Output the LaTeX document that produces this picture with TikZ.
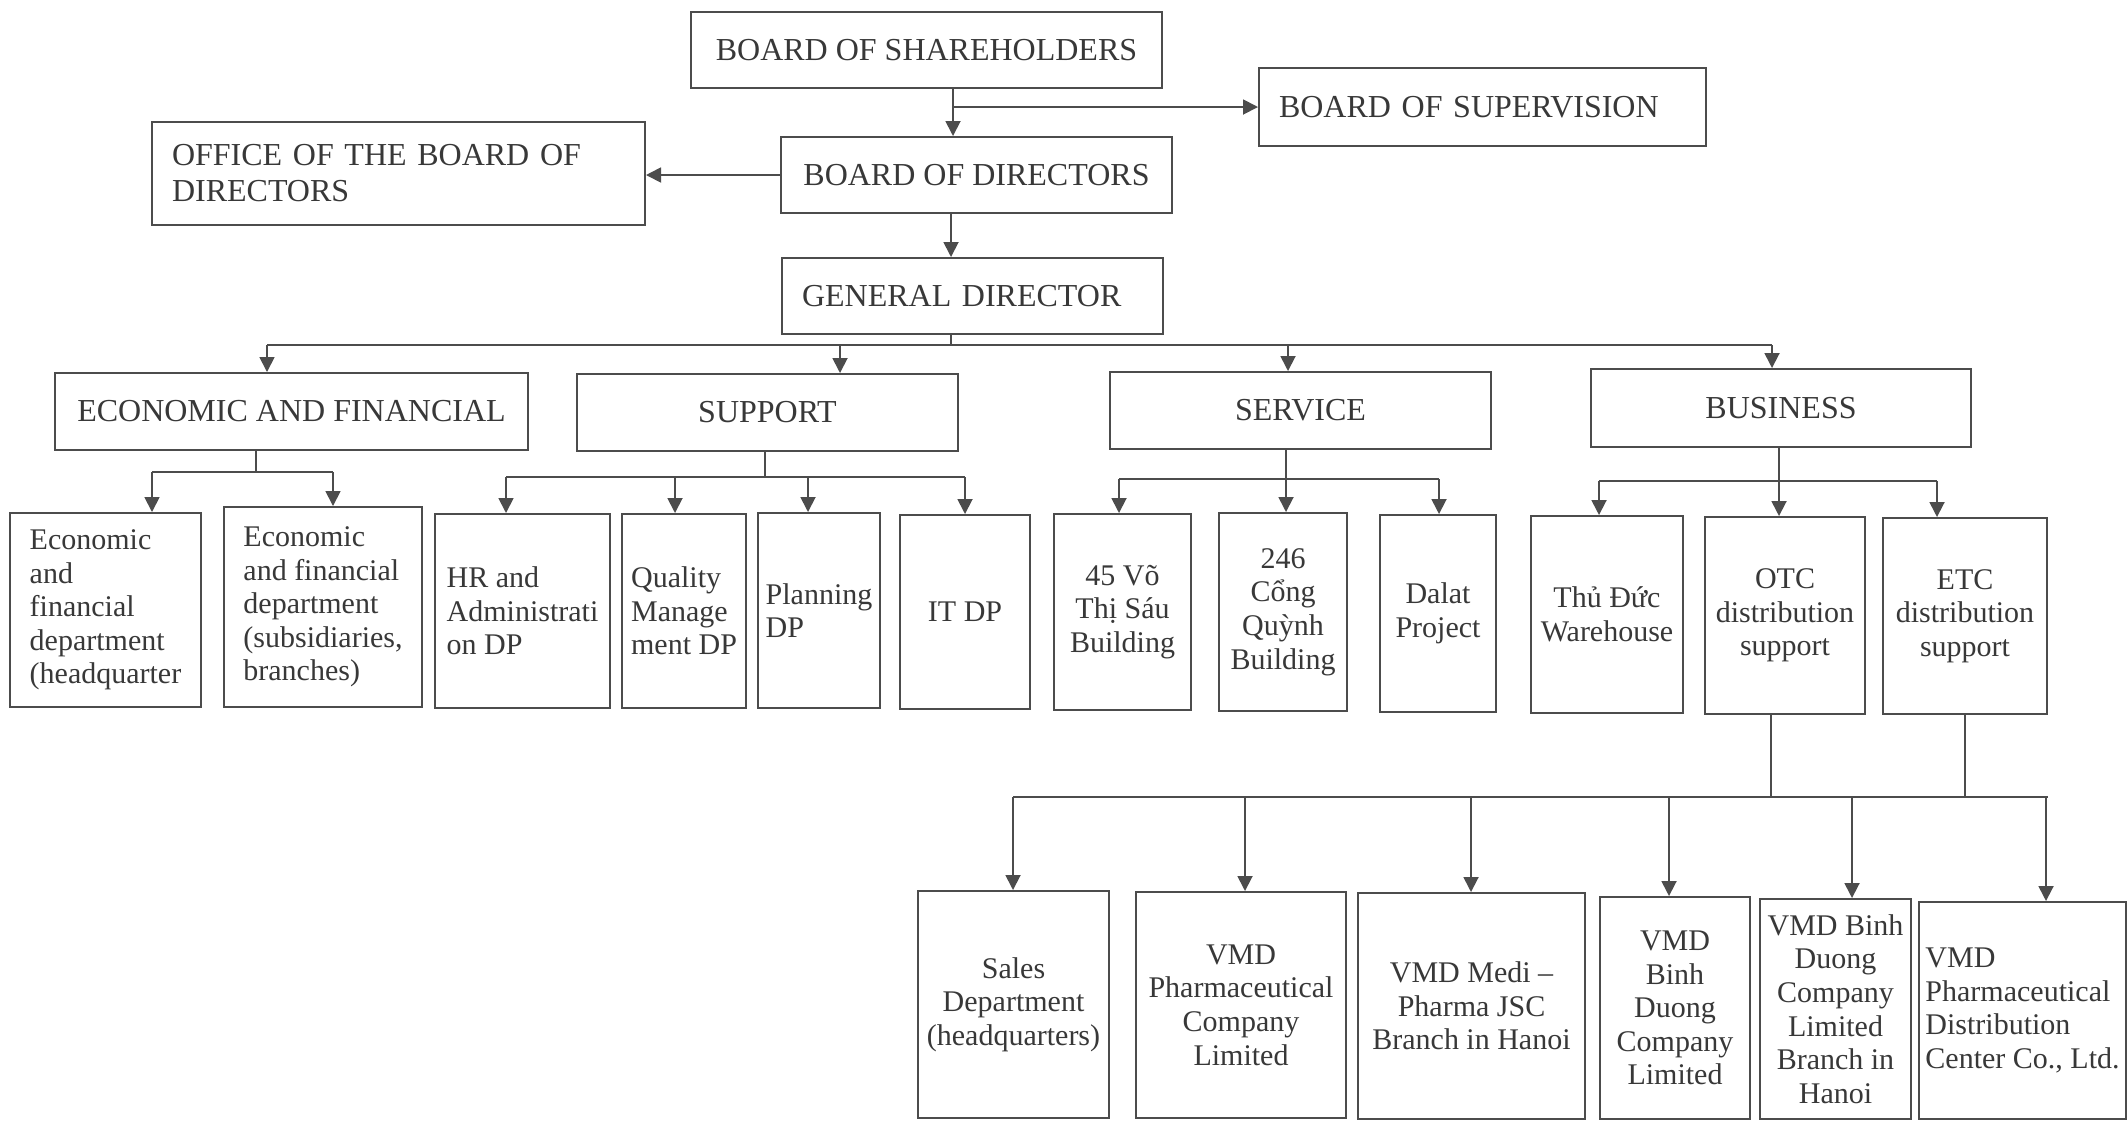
\documentclass[tikz,border=0pt]{standalone}
\usepackage{fontspec}
\setmainfont{Liberation Serif}
\usetikzlibrary{arrows.meta}
\definecolor{linecol}{gray}{0.3}
\definecolor{txtcol}{gray}{0.22}
\tikzset{
 box/.style={draw=linecol, line width=1pt, inner sep=0pt, text=txtcol, align=center, font=\fontsize{15}{16.8}\selectfont},
 big/.style={font=\fontsize{16}{18}\selectfont},
 ln/.style={draw=linecol, line width=0.9pt},
 arr/.style={ln, -{Triangle[length=7.5pt,width=7.5pt]}},
}
\newcommand\orgbox[7]{\node[box,#6,minimum width={(#4-#2)*0.5pt},minimum height={(#5-#3)*0.5pt}] (#1) at ({(#2+#4)/2},{(#3+#5)/2}) {#7};}
\begin{document}
\begin{tikzpicture}[x=0.5pt,y=-0.5pt]
\fill[white] (0,0) rectangle (2128,1121);
\useasboundingbox (0,0) rectangle (2128,1121);

% top levels
\orgbox{sh}{691}{12}{1162}{88}{big}{BOARD OF SHAREHOLDERS}
\orgbox{sup}{1259}{68}{1706}{146}{big,text width=203.5pt,align=left}{BOARD OF SUPERVISION}
\orgbox{bod}{781}{137}{1172}{213}{big}{BOARD OF DIRECTORS}
\orgbox{off}{152}{122}{645}{225}{big,text width=226.5pt,align=left}{OFFICE OF THE BOARD OF\\DIRECTORS}
\orgbox{gd}{782}{258}{1163}{334}{big,text width=170.5pt,align=left}{GENERAL DIRECTOR}

% divisions
\orgbox{eco}{55}{373}{528}{450}{big}{ECONOMIC AND FINANCIAL}
\orgbox{spt}{577}{374}{958}{451}{big}{SUPPORT}
\orgbox{ser}{1110}{372}{1491}{449}{big}{SERVICE}
\orgbox{bus}{1591}{369}{1971}{447}{big}{BUSINESS}

% departments
\orgbox{e1}{10}{513}{201}{707}{align=left}{Economic\\and\\financial\\department\\(headquarter}
\orgbox{e2}{224}{507}{422}{707}{align=left}{Economic\\and financial\\department\\(subsidiaries,\\branches)}
\orgbox{hr}{435}{514}{610}{708}{align=left}{HR and\\Administrati\\on DP}
\orgbox{qm}{622}{514}{746}{708}{align=left}{Quality\\Manage\\ment DP}
\orgbox{pl}{758}{513}{880}{708}{align=left}{Planning\\DP}
\orgbox{it}{900}{515}{1030}{709}{}{IT DP}
\orgbox{s1}{1054}{514}{1191}{710}{}{45 Võ\\Thị Sáu\\Building}
\orgbox{s2}{1219}{513}{1347}{711}{}{246\\Cổng\\Quỳnh\\Building}
\orgbox{s3}{1380}{515}{1496}{712}{}{Dalat\\Project}
\orgbox{b1}{1531}{516}{1683}{713}{}{Thủ Đức\\Warehouse}
\orgbox{b2}{1705}{517}{1865}{714}{}{OTC\\distribution\\support}
\orgbox{b3}{1883}{518}{2047}{714}{}{ETC\\distribution\\support}

% units
\orgbox{d1}{918}{891}{1109}{1118}{}{Sales\\Department\\(headquarters)}
\orgbox{d2}{1136}{892}{1346}{1118}{}{VMD\\Pharmaceutical\\Company\\Limited}
\orgbox{d3}{1358}{893}{1585}{1119}{}{VMD Medi –\\Pharma JSC\\Branch in Hanoi}
\orgbox{d4}{1600}{897}{1750}{1119}{}{VMD\\Binh\\Duong\\Company\\Limited}
\orgbox{d5}{1760}{899}{1911}{1119}{}{VMD Binh\\Duong\\Company\\Limited\\Branch in\\Hanoi}
\orgbox{d6}{1919}{902}{2126}{1119}{align=left}{VMD\\Pharmaceutical\\Distribution\\Center Co., Ltd.}

% junction coordinates
\coordinate (gj) at (951,345);
\coordinate (gl) at (267,345);
\coordinate (gr) at (1772,345);
\coordinate (ej) at (256,472);
\coordinate (el) at (152,472);
\coordinate (er) at (333,472);
\coordinate (pj) at (765,477);
\coordinate (pl1) at (506,477);
\coordinate (pr) at (965,477);
\coordinate (sl) at (1119,479);
\coordinate (sr) at (1439,479);
\coordinate (bl) at (1599,481);
\coordinate (br) at (1937,481);
\coordinate (uj1) at (1771,797);
\coordinate (uj2) at (1965,797);
\coordinate (ul) at (1013,797);
\coordinate (ur) at (2048,797);

% top connectors
\draw[arr] (sh.south -| 953,0) -- (bod.north -| 953,0);
\draw[arr] (sup.west -| 953,0) -- (sup.west);
\draw[arr] (bod.west) -- (bod.west -| off.east);
\draw[arr] (bod.south -| 951,0) -- (gd.north -| 951,0);

% general director bus
\draw[ln] (gd.south -| gj) -- (gj);
\draw[ln] (gl) -- (gr);
\draw[arr] (gl) -- (eco.north -| gl);
\draw[arr] (spt.north -| 840,0) ++(0,-29) -- (spt.north -| 840,0);
\draw[arr] (ser.north -| 1288,0) ++(0,-27) -- (ser.north -| 1288,0);
\draw[arr] (gr) -- (bus.north -| gr);

% economic
\draw[ln] (eco.south -| ej) -- (ej);
\draw[ln] (el) -- (er);
\draw[arr] (el) -- (e1.north -| el);
\draw[arr] (er) -- (e2.north -| er);

% support
\draw[ln] (spt.south -| pj) -- (pj);
\draw[ln] (pl1) -- (pr);
\draw[arr] (pl1) -- (hr.north -| pl1);
\draw[arr] (675,477) -- (qm.north -| 675,0);
\draw[arr] (808,477) -- (pl.north -| 808,0);
\draw[arr] (pr) -- (it.north -| pr);

% service
\draw[arr] (ser.south -| 1286,0) -- (s2.north -| 1286,0);
\draw[ln] (sl) -- (sr);
\draw[arr] (sl) -- (s1.north -| sl);
\draw[arr] (sr) -- (s3.north -| sr);

% business
\draw[arr] (bus.south -| 1779,0) -- (b2.north -| 1779,0);
\draw[ln] (bl) -- (br);
\draw[arr] (bl) -- (b1.north -| bl);
\draw[arr] (br) -- (b3.north -| br);

% units bus
\draw[ln] (b2.south -| uj1) -- (uj1);
\draw[ln] (b3.south -| uj2) -- (uj2);
\draw[ln] (ul) -- (ur);
\draw[arr] (ul) -- (d1.north -| ul);
\draw[arr] (1245,797) -- (d2.north -| 1245,0);
\draw[arr] (1471,797) -- (d3.north -| 1471,0);
\draw[arr] (1669,797) -- (d4.north -| 1669,0);
\draw[arr] (1852,797) -- (d5.north -| 1852,0);
\draw[arr] (2046,797) -- (d6.north -| 2046,0);
\end{tikzpicture}
\end{document}
